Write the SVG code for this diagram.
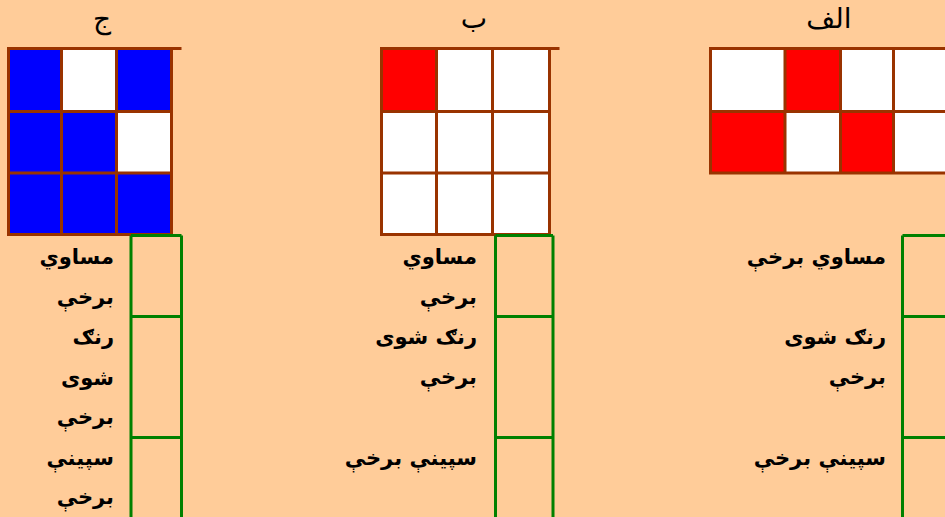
<svg xmlns="http://www.w3.org/2000/svg" width="945" height="517" viewBox="0 0 945 517">
<style>
.bg{fill:#FFCC99}
.w{fill:#FFFFFF}
.r{fill:#FF0000}
.b{fill:#0000FF}
.grid{stroke:#993300;stroke-width:3;fill:none;stroke-linecap:square}
.box{stroke:#008000;stroke-width:3;fill:none}
.ttl{font-family:"DejaVu Sans","Noto Sans",sans-serif;font-size:28px;fill:#000;text-anchor:middle}
.lbl{font-family:"DejaVu Sans","Noto Sans",sans-serif;font-size:21px;font-weight:bold;fill:#000;text-anchor:end}
</style>
<rect class="bg" x="0" y="0" width="945" height="517"/>

<g id="title-j"><text class="ttl" x="102" y="28">ج</text></g>
<g id="title-b"><text class="ttl" x="474" y="28">ب</text></g>
<g id="title-alef"><text class="ttl" x="829" y="28">الف</text></g>

<g id="grid-j">
<rect class="b" x="8.5" y="48.5" width="53" height="63"/>
<rect class="w" x="61.5" y="48.5" width="55" height="63"/>
<rect class="b" x="116.5" y="48.5" width="55" height="63"/>
<rect class="b" x="8.5" y="111.5" width="53" height="61.5"/>
<rect class="b" x="61.5" y="111.5" width="55" height="61.5"/>
<rect class="w" x="116.5" y="111.5" width="55" height="61.5"/>
<rect class="b" x="8.5" y="173" width="163" height="61.5"/>
<path class="grid" d="M8.5 48.5H180M8.5 111.5H171.5M8.5 173H171.5M8.5 234.5H171.5M8.5 48.5V234.5M61.5 48.5V234.5M116.5 48.5V234.5M171.5 48.5V234.5"/>
</g>

<g id="grid-b">
<rect class="w" x="381.5" y="48.5" width="168" height="186"/>
<rect class="r" x="381.5" y="48.5" width="55" height="63"/>
<path class="grid" d="M381.5 48.5H558M381.5 111.5H549.5M381.5 173H549.5M381.5 234.5H549.5M381.5 48.5V234.5M436.5 48.5V234.5M492.5 48.5V234.5M549.5 48.5V234.5"/>
</g>

<g id="grid-alef">
<rect class="w" x="710.5" y="48.5" width="240" height="124.5"/>
<rect class="r" x="785" y="48.5" width="55.5" height="63"/>
<rect class="r" x="710.5" y="111.5" width="74.5" height="61.5"/>
<rect class="r" x="840.5" y="111.5" width="53" height="61.5"/>
<path class="grid" d="M710.5 48.5H950M710.5 111.5H950M710.5 173H950M710.5 48.5V173M785 48.5V173M840.5 48.5V173M893.5 48.5V173"/>
</g>

<g id="labels-j">
<text class="lbl" x="114" y="264">مساوي</text>
<text class="lbl" x="114" y="304">برخې</text>
<text class="lbl" x="114" y="344">رنګ</text>
<text class="lbl" x="114" y="385">شوی</text>
<text class="lbl" x="114" y="424">برخې</text>
<text class="lbl" x="114" y="465">سپينې</text>
<text class="lbl" x="114" y="504">برخې</text>
</g>
<g id="labels-b">
<text class="lbl" x="477" y="264">مساوي</text>
<text class="lbl" x="477" y="304">برخې</text>
<text class="lbl" x="477" y="344">رنګ شوی</text>
<text class="lbl" x="477" y="384">برخې</text>
<text class="lbl" x="477" y="465">سپينې برخې</text>
</g>
<g id="labels-alef">
<text class="lbl" x="886" y="264">مساوي برخې</text>
<text class="lbl" x="886" y="344">رنګ شوی</text>
<text class="lbl" x="886" y="384">برخې</text>
<text class="lbl" x="886" y="465">سپينې برخې</text>
</g>

<g id="connectors">
<path class="box" d="M131 235.5V520M181.5 235.5V520M131 235.5H181.5M131 316.5H181.5M131 437.5H181.5"/>
<path class="box" d="M495.5 235.5V520M553 235.5V520M495.5 235.5H553M495.5 316.5H553M495.5 437.5H553"/>
<path class="box" d="M902.5 235.5V520M902.5 235.5H950M902.5 316.5H950M902.5 437.5H950"/>
</g>
</svg>
